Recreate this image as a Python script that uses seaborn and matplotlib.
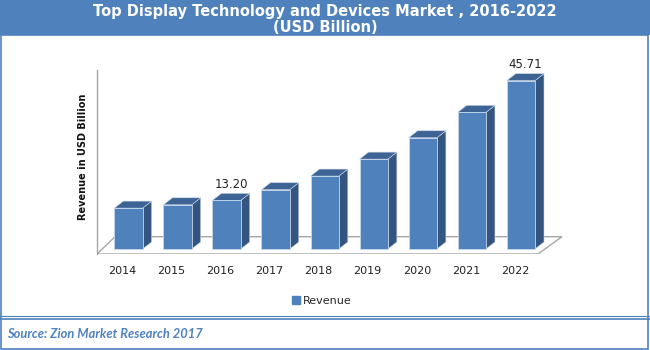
import matplotlib
matplotlib.use("Agg")
import matplotlib.pyplot as plt
import matplotlib.patches as mpatches
import matplotlib.transforms as mtransforms
import seaborn as sns

# ── data ──────────────────────────────
years   = ["2014", "2015", "2016", "2017", "2018", "2019", "2020", "2021", "2022"]
revenue = [11.1, 12.0, 13.20, 16.1, 19.8, 24.4, 30.2, 37.1, 45.71]
labelled = {"2016": "13.20", "2022": "45.71"}

FRONT = "#4F81BD"
SIDE  = "#34557F"
TOP   = "#3D6494"
BLUE  = "#4F81BD"
GRAY  = "#A6A6A6"

sns.set_style("white")
plt.rcParams["font.family"] = ["DejaVu Sans"]

fig = plt.figure(figsize=(6.5, 3.5), dpi=100)
W, H = 650, 350

# axes box in pixels: x 97..565, y 70..254
ax = fig.add_axes([97 / W, 1 - 254 / H, (565 - 97) / W, (254 - 70) / H])

sns.barplot(x=years, y=revenue, color=FRONT, saturation=1, width=0.577,
            edgecolor="#C9D7EA", linewidth=0.6, ax=ax, zorder=3)

ax.set_xlim(-0.642, 8.90)
ax.set_ylim(-1.36, 48.6)

# pixel -> data conversion for the 3D depth
px_x = (565 - 97) / (8.90 + 0.642)
px_y = (254 - 70) / (48.6 + 1.36)
dx, dy = 9 / px_x, 7 / px_y

for bar, year in zip(ax.patches, years):
    x0, w, h = bar.get_x(), bar.get_width(), bar.get_height()
    x1 = x0 + w
    side = [(x1, 0), (x1 + dx, dy), (x1 + dx, h + dy), (x1, h)]
    top = [(x0, h), (x0 + dx, h + dy), (x1 + dx, h + dy), (x1, h)]
    ax.add_patch(mpatches.Polygon(side, closed=True, facecolor=SIDE,
                                  edgecolor="#C9D7EA", linewidth=0.4, zorder=2))
    ax.add_patch(mpatches.Polygon(top, closed=True, facecolor=TOP,
                                  edgecolor="#C9D7EA", linewidth=0.4, zorder=2))
    if year in labelled:
        ax.annotate(labelled[year], (x0 + w / 2 + dx / 2, h + dy),
                    xytext=(0, 2), textcoords="offset points",
                    ha="center", va="bottom", fontsize=8.5, color="#222222")

# floor
fx = lambda p: (p - 97) / (565 - 97)
fy = lambda p: (254 - p) / (254 - 70)
floor = [(fx(97), fy(254)), (fx(538), fy(254)), (fx(562), fy(236.7)),
         (fx(115), fy(236.7)), (fx(97), fy(254))]
ax.add_patch(mpatches.Polygon(floor, closed=True, facecolor="white",
                              edgecolor=GRAY, linewidth=1.0,
                              transform=ax.transAxes, zorder=1))

sns.despine(ax=ax, left=False, bottom=True, top=True, right=True)
ax.spines["left"].set_color(GRAY)
ax.spines["left"].set_linewidth(1.0)
ax.set_yticks([])
ax.tick_params(axis="x", length=0, pad=9, labelsize=8, labelcolor="#222222")
shift = mtransforms.ScaledTranslation(-6 / 100, 0, fig.dpi_scale_trans)
for lbl in ax.get_xticklabels():
    lbl.set_transform(lbl.get_transform() + shift)
ax.set_xlabel("")
ax.set_ylabel("Revenue in USD Billion", fontsize=7, fontweight="bold",
              color="#111111")
ax.yaxis.set_label_coords(-0.019, 0.53)
ax.set_facecolor("none")

# legend
fig.legend(handles=[mpatches.Patch(color=FRONT, label="Revenue")],
           loc="center", bbox_to_anchor=(322 / W, 1 - 301 / H), frameon=False,
           fontsize=8, handlelength=0.7, handleheight=0.7, handletextpad=0.3)

# title bar
fig.patches.append(mpatches.Rectangle((0, 1 - 35 / H), 1, 35 / H,
                                      transform=fig.transFigure, facecolor=BLUE,
                                      edgecolor="none", zorder=0))
fig.text(0.5, 1 - 19.5 / H, "Top Display Technology and Devices Market , 2016-2022\n(USD Billion)",
         ha="center", va="center", color="white", fontsize=10.5,
         fontweight="bold", linespacing=1.05)

# border and footer
fig.patches.append(mpatches.Rectangle((1 / W, 1 / H), 1 - 3 / W, 1 - 36 / H,
                                      transform=fig.transFigure, facecolor="none",
                                      edgecolor=BLUE, linewidth=1.2))
fig.add_artist(plt.Line2D([0, 1], [1 - 316 / H, 1 - 316 / H],
                          transform=fig.transFigure, color=BLUE, linewidth=0.8))
fig.add_artist(plt.Line2D([0, 1], [1 - 318.5 / H, 1 - 318.5 / H],
                          transform=fig.transFigure, color=BLUE, linewidth=1.2))
fig.text(7 / W, 1 - 334 / H, "Source: Zion Market Research 2017", ha="left",
         va="center", color=BLUE, fontsize=9.3, fontweight="bold", style="italic",
         family=["Lato", "DejaVu Sans"])

fig.savefig("out.png", dpi=100)
